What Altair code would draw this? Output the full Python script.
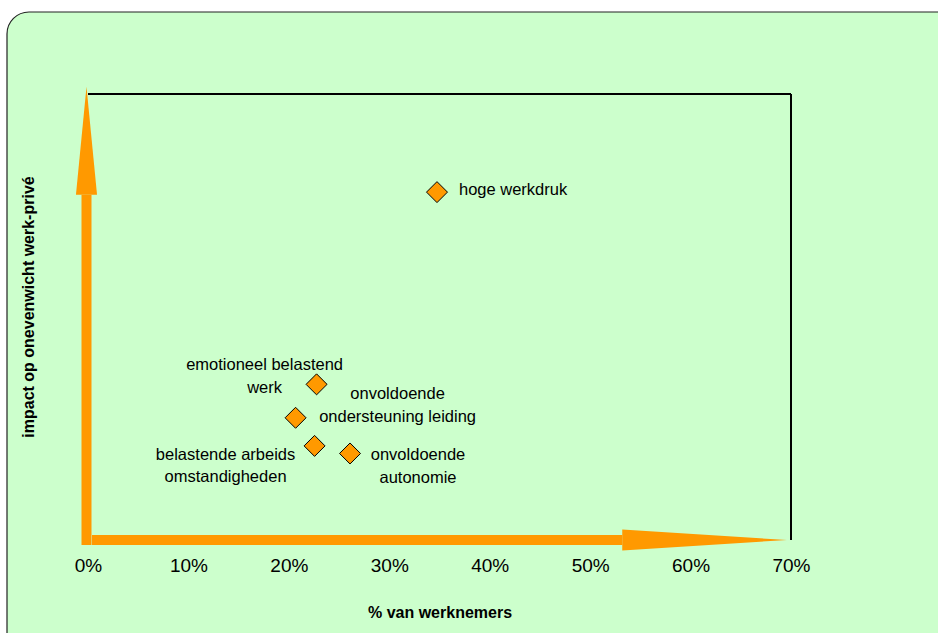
import altair as alt
import pandas as pd

# --- data ---
labels = [
    "hoge werkdruk",
    "emotioneel belastend\nwerk",
    "onvoldoende\nondersteuning leiding",
    "belastende arbeids\nomstandigheden",
    "onvoldoende\nautonomie",
]
pct_employees = [34.75, 22.76, 20.67, 22.56, 26.09]   # % van werknemers
impact = [78.0, 34.9, 27.4, 21.1, 19.4]               # impact (unitless, no scale shown)
x_ticks = [0, 10, 20, 30, 40, 50, 60, 70]

# axis arrows (in data units)
x_arrow_shaft = [0.4, 53.2]
x_arrow_head = [53.2, 69.6]
y_arrow_shaft = [-1.1, 77.4]
y_arrow_head = [77.4, 101.6]

ORANGE = "#FF9900"
GREEN = "#CCFFCC"
FONT = "Liberation Sans"

pts = pd.DataFrame({"label": labels, "x": pct_employees, "y": impact})

xs = alt.Scale(domain=[0, 70], nice=False, zero=False)
ys = alt.Scale(domain=[0, 100], nice=False, zero=False)

xaxis = alt.Axis(
    values=x_ticks, labelExpr="datum.value + '%'", grid=False, ticks=False, domain=False,
    labelFontSize=19, labelFont=FONT, labelColor="black", labelPadding=16,
    labelFlush=False, labelOverlap=False, zindex=1,
    title="% van werknemers", titleFont=FONT, titleFontSize=16, titleFontWeight="bold",
    titleColor="black", titleX=351.5, titleY=77, titleBaseline="alphabetic", titleAlign="center")
yaxis = alt.Axis(
    grid=False, ticks=False, domain=False, labels=False, zindex=1,
    title="impact op onevenwicht werk-privé", titleFont=FONT, titleFontSize=16,
    titleFontWeight="bold", titleColor="black", titleAngle=-90, titleX=-55, titleY=212.5,
    titleBaseline="alphabetic", titleAlign="center")

X = lambda: alt.X("x:Q", scale=xs, axis=xaxis)
Y = lambda: alt.Y("y:Q", scale=ys, axis=yaxis)

# rounded green panel
panel = alt.Chart(pd.DataFrame({"a": [0]})).mark_rect(
    fill=GREEN, stroke="#222222", strokeWidth=1.2, cornerRadius=22
).encode(x=alt.value(-81), x2=alt.value(900), y=alt.value(-82), y2=alt.value(600))

# frame (top and right)
frame_top = alt.Chart(pd.DataFrame({"x": [0], "x2": [70], "y": [100]})).mark_rule(
    color="black", strokeWidth=2).encode(x=X(), x2="x2:Q", y=Y())
frame_right = alt.Chart(pd.DataFrame({"x": [70], "y": [0], "y2": [100]})).mark_rule(
    color="black", strokeWidth=2).encode(x=X(), y=Y(), y2="y2:Q")

# arrows
xshaft = alt.Chart(pd.DataFrame({"x": [x_arrow_shaft[0]], "x2": [x_arrow_shaft[1]], "y": [0]})).mark_rule(
    color=ORANGE, strokeWidth=10, clip=False).encode(x=X(), x2="x2:Q", y=Y())
xhead = alt.Chart(pd.DataFrame({"x": x_arrow_head, "y": [-2.35, 0], "y2": [2.35, 0]})).mark_area(
    color=ORANGE, orient="vertical", clip=False, opacity=1).encode(x=X(), y=Y(), y2="y2:Q")
yshaft = alt.Chart(pd.DataFrame({"x": [-0.15], "y": [y_arrow_shaft[0]], "y2": [y_arrow_shaft[1]]})).mark_rule(
    color=ORANGE, strokeWidth=10, clip=False).encode(x=X(), y=Y(), y2="y2:Q")
yhead = alt.Chart(pd.DataFrame({"y": y_arrow_head, "x": [-1.2, -0.15], "x2": [0.9, -0.15]})).mark_area(
    color=ORANGE, orient="horizontal", clip=False, opacity=1).encode(y=Y(), x=X(), x2="x2:Q")

points = alt.Chart(pts).mark_point(shape="diamond", filled=True, fill=ORANGE, stroke="black",
                                   strokeWidth=1, size=440, opacity=1).encode(x=X(), y=Y())

# label placements (pixel offsets relative to each point)
placements = {
    "hoge werkdruk": dict(dx=22, dy=3, align="left"),
    "emotioneel belastend\nwerk": dict(dx=-52, dy=-14, align="center"),
    "onvoldoende\nondersteuning leiding": dict(dx=102, dy=-18.5, align="center"),
    "belastende arbeids\nomstandigheden": dict(dx=-89, dy=14, align="center"),
    "onvoldoende\nautonomie": dict(dx=68, dy=7, align="center"),
}
texts = []
for lab in labels:
    p = placements[lab]
    texts.append(
        alt.Chart(pts).transform_filter(alt.datum.label == lab).mark_text(
            font=FONT, fontSize=16.5, color="black", baseline="alphabetic", lineBreak="\n",
            lineHeight=22.5, align=p["align"], dx=p["dx"], dy=p["dy"]
        ).encode(x=X(), y=Y(), text="label:N")
    )

chart = alt.layer(
    panel, frame_top, frame_right, xshaft, xhead, yshaft, yhead, points, *texts
).properties(
    width=703, height=446,
    padding={"left": 88, "top": 94, "right": 147, "bottom": 93},
    autosize=alt.AutoSizeParams(type="none"),
    background="white",
).configure_view(strokeWidth=0)

chart.save("out.html", embed_options={"renderer": "svg", "actions": False})
